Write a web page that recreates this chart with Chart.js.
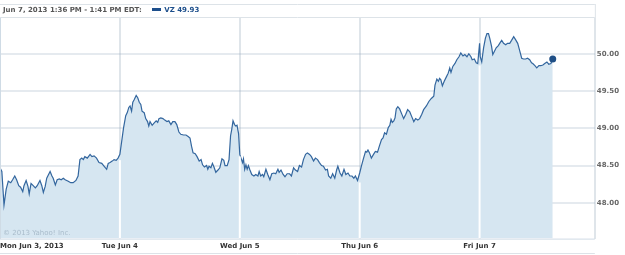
<!DOCTYPE html>
<html lang="en">
<head>
<meta charset="UTF-8">
<title>VZ 5 Day</title>
<script src="https://cdn.jsdelivr.net/npm/chart.js"></script>
<style>
    body { margin: 0; background: #fff; font-family: "DejaVu Sans", sans-serif; }
    #wrap { position: relative; width: 625px; height: 255px; }
    #header { position: absolute; left: 3px; top: 6px; font-size: 7px; line-height: 9px; font-weight: bold; color: #555; white-space: nowrap; }
    #header .mark { display: inline-block; width: 9px; height: 3px; background: #1d4f8c; vertical-align: middle; margin: 0 3px 1px 8px; }
    #header .vz { color: #1d4f8c; }
    #copy { position: absolute; left: 3px; top: 229px; font-size: 7px; line-height: 9px; color: #a9bccb; white-space: nowrap; }
</style>
</head>
<body>
<div id="wrap">
    <canvas id="vzChart"></canvas>
    <div id="header">Jun 7, 2013 1:36 PM - 1:41 PM EDT: <span class="mark"></span><span class="vz">VZ 49.93</span></div>
    <div id="copy">© 2013 Yahoo! Inc.</div>
</div>
<script>
// trading minutes since Mon Jun 3 09:30 (390 minutes per session)
const minutes = [
    0, 6, 13, 20, 27, 35, 41, 48, 54, 61, 67, 74, 78, 85, 91, 95, 101, 108, 115, 121,
    130, 136, 141, 147, 152, 158, 163, 169, 173, 180, 186, 193, 199, 206, 212, 222, 230, 238, 247, 254,
    260, 266, 271, 276, 284, 293, 299, 306, 314, 322, 331, 339, 347, 352, 358, 365, 371, 378, 384,
    // Tue
    390, 396, 402, 409, 414, 419, 423, 428, 432, 436, 443, 448, 453, 458, 462, 469, 474, 480, 484, 488,
    495, 501, 508, 513, 517, 523, 530, 536, 543, 549, 556, 562, 569, 575, 582, 588, 597, 605, 612, 618,
    623, 628, 635, 641, 648, 654, 659, 665, 672, 676, 680, 686, 691, 696, 702, 709, 715, 722, 728, 732,
    739, 745, 750, 754, 758, 763, 767, 771, 776,
    // Wed
    780, 784, 789, 792, 796, 800, 804, 808, 813, 819, 826, 832, 839, 843, 848, 854, 858, 865, 871, 878,
    884, 891, 897, 904, 908, 914, 921, 927, 934, 942, 948, 955, 961, 968, 974, 981, 987, 994, 1000, 1007,
    1013, 1020, 1026, 1033, 1039, 1046, 1052, 1059, 1065, 1069, 1076, 1082, 1089, 1095, 1099, 1106, 1112, 1119, 1125, 1132,
    1138, 1145, 1151, 1156, 1163,
    // Thu
    1170, 1176, 1182, 1189, 1193, 1197, 1202, 1208, 1215, 1221, 1228, 1234, 1241, 1246, 1251, 1257, 1263, 1268, 1272, 1276,
    1281, 1285, 1289, 1294, 1300, 1307, 1313, 1320, 1326, 1333, 1339, 1346, 1352, 1359, 1365, 1372, 1378, 1387, 1395, 1403,
    1411, 1415, 1421, 1426, 1430, 1434, 1439, 1445, 1452, 1458, 1463, 1467, 1473, 1480, 1486, 1493, 1499, 1506, 1512, 1519,
    1525, 1532, 1536, 1543, 1549, 1554,
    // Fri
    1560, 1562, 1567, 1573, 1579, 1584, 1589, 1593, 1599, 1603, 1608, 1614, 1621, 1627, 1632, 1638, 1645, 1651, 1658, 1664,
    1671, 1677, 1684, 1690, 1697, 1703, 1710, 1716, 1723, 1729, 1733, 1740, 1746, 1753, 1759, 1766, 1772, 1779, 1785, 1792,
    1798
];

const prices = [
    48.47, 48.42, 47.97, 48.18, 48.29, 48.27, 48.31, 48.36, 48.31, 48.23, 48.21, 48.15, 48.23, 48.30, 48.22, 48.12, 48.26, 48.23, 48.20, 48.23,
    48.30, 48.23, 48.14, 48.22, 48.33, 48.38, 48.42, 48.36, 48.33, 48.24, 48.31, 48.32, 48.31, 48.33, 48.31, 48.29, 48.27, 48.27, 48.30, 48.36,
    48.58, 48.60, 48.58, 48.62, 48.60, 48.65, 48.62, 48.63, 48.60, 48.54, 48.53, 48.49, 48.45, 48.53, 48.54, 48.56, 48.58, 48.57, 48.60,
    // Tue
    48.65, 48.83, 49.01, 49.17, 49.21, 49.28, 49.30, 49.23, 49.35, 49.38, 49.44, 49.41, 49.35, 49.32, 49.23, 49.21, 49.13, 49.09, 49.03, 49.09,
    49.04, 49.07, 49.10, 49.08, 49.13, 49.14, 49.13, 49.11, 49.09, 49.10, 49.05, 49.09, 49.09, 49.05, 48.95, 48.92, 48.91, 48.91, 48.89, 48.87,
    48.76, 48.67, 48.66, 48.62, 48.56, 48.58, 48.51, 48.48, 48.50, 48.45, 48.49, 48.47, 48.53, 48.48, 48.41, 48.44, 48.47, 48.59, 48.57, 48.50,
    48.50, 48.58, 48.90, 48.99, 49.10, 49.05, 49.03, 49.04, 48.93,
    // Wed
    48.65, 48.60, 48.54, 48.59, 48.45, 48.51, 48.45, 48.50, 48.44, 48.38, 48.36, 48.38, 48.36, 48.42, 48.36, 48.38, 48.35, 48.45, 48.38, 48.31,
    48.39, 48.40, 48.39, 48.45, 48.41, 48.44, 48.38, 48.35, 48.39, 48.39, 48.36, 48.47, 48.44, 48.42, 48.50, 48.48, 48.58, 48.65, 48.67, 48.65,
    48.62, 48.56, 48.60, 48.58, 48.54, 48.50, 48.49, 48.44, 48.45, 48.36, 48.33, 48.39, 48.33, 48.44, 48.49, 48.40, 48.36, 48.45, 48.38, 48.40,
    48.36, 48.36, 48.33, 48.36, 48.30,
    // Thu
    48.40, 48.50, 48.59, 48.69, 48.68, 48.71, 48.67, 48.60, 48.65, 48.69, 48.68, 48.76, 48.85, 48.87, 48.94, 48.92, 49.01, 49.04, 49.12, 49.08,
    49.10, 49.14, 49.26, 49.29, 49.26, 49.19, 49.13, 49.19, 49.25, 49.22, 49.16, 49.09, 49.13, 49.11, 49.13, 49.19, 49.25, 49.30, 49.36, 49.40,
    49.43, 49.58, 49.66, 49.63, 49.67, 49.65, 49.57, 49.63, 49.69, 49.74, 49.81, 49.75, 49.83, 49.87, 49.92, 49.96, 50.01, 49.97, 49.99, 49.96,
    50.00, 49.96, 49.92, 49.93, 49.88, 49.87,
    // Fri
    50.14, 49.96, 49.89, 50.08, 50.21, 50.27, 50.27, 50.21, 50.10, 49.99, 50.03, 50.08, 50.11, 50.15, 50.18, 50.14, 50.12, 50.14, 50.14, 50.18,
    50.23, 50.19, 50.14, 50.05, 49.94, 49.93, 49.93, 49.94, 49.92, 49.88, 49.87, 49.84, 49.81, 49.84, 49.84, 49.85, 49.87, 49.89, 49.86, 49.87,
    49.93
];

const dayStarts = [0, 390, 780, 1170, 1560];
const dayLabels = ['Mon Jun 3, 2013', 'Tue Jun 4', 'Wed Jun 5', 'Thu Jun 6', 'Fri Jun 7'];
const yTicks = [48.00, 48.50, 49.00, 49.50, 50.00];
const xEnd = 1935;

const points = minutes.map((m, i) => ({ x: m, y: prices[i] }));

// outer frame lines of the yahoo widget
const framePlugin = {
    id: 'frame',
    beforeDraw(chart) {
        const { ctx, chartArea: a, height } = chart;
        ctx.save();
        ctx.strokeStyle = '#dde3e8';
        ctx.lineWidth = 1;
        ctx.beginPath();
        ctx.moveTo(0, 4.5); ctx.lineTo(a.right, 4.5);
        ctx.moveTo(0, a.top - 0.5); ctx.lineTo(a.right, a.top - 0.5);
        ctx.moveTo(a.right + 0.5, 4); ctx.lineTo(a.right + 0.5, a.bottom);
        ctx.moveTo(0, height - 1.5); ctx.lineTo(a.right, height - 1.5);
        ctx.stroke();
        ctx.restore();
    },
    afterDraw(chart) {
        const { ctx, chartArea: a } = chart;
        ctx.save();
        ctx.strokeStyle = '#cfdbe5';
        ctx.lineWidth = 1;
        ctx.beginPath();
        ctx.moveTo(0.5, a.top); ctx.lineTo(0.5, a.bottom);
        ctx.moveTo(0, a.bottom + 0.5); ctx.lineTo(a.right, a.bottom + 0.5);
        ctx.stroke();
        ctx.restore();
    }
};

// white day separators cut through the filled area
const separatorPlugin = {
    id: 'separators',
    afterDatasetsDraw(chart) {
        const { ctx, chartArea: a, scales } = chart;
        ctx.save();
        ctx.strokeStyle = '#ffffff';
        ctx.lineWidth = 2;
        dayStarts.slice(1).forEach(d => {
            const i = minutes.indexOf(d);
            if (i < 1) return;
            const low = Math.min(prices[i - 1], prices[i]);
            const x = scales.x.getPixelForValue(d);
            const y = scales.y.getPixelForValue(low) + 2;
            ctx.beginPath();
            ctx.moveTo(x, a.bottom);
            ctx.lineTo(x, y);
            ctx.stroke();
        });
        ctx.restore();
    }
};

Chart.defaults.font.family = '"DejaVu Sans", sans-serif';
Chart.defaults.font.size = 7;
Chart.defaults.font.weight = 'bold';

const ctx = document.getElementById('vzChart').getContext('2d');
new Chart(ctx, {
    type: 'line',
    data: {
        datasets: [{
            label: 'VZ',
            data: points,
            borderColor: '#33669e',
            borderWidth: 1.2,
            backgroundColor: '#d6e6f1',
            fill: 'start',
            tension: 0,
            pointRadius: c => c.dataIndex === points.length - 1 ? 3.5 : 0,
            pointBackgroundColor: '#1f4f86',
            pointBorderWidth: 0
        }]
    },
    options: {
        responsive: true,
        maintainAspectRatio: false,
        animation: false,
        layout: { autoPadding: false, padding: { top: 18, right: 4, bottom: 5, left: 0 } },
        plugins: { legend: { display: false }, tooltip: { enabled: false } },
        scales: {
            x: {
                type: 'linear',
                min: 0,
                max: xEnd,
                afterBuildTicks: axis => {
                    axis.ticks = dayStarts.concat([xEnd]).map(v => ({ value: v }));
                },
                ticks: {
                    autoSkip: false,
                    maxRotation: 0,
                    align: 'inner',
                    padding: 0,
                    color: '#333',
                    callback: (v, i) => dayLabels[i] || ''
                },
                grid: { color: '#dfe5ea', lineWidth: 2, drawTicks: true, tickLength: 3, tickColor: 'rgba(0,0,0,0)' },
                border: { display: false }
            },
            y: {
                position: 'right',
                min: 47.52,
                max: 50.48,
                z: 1,
                afterBuildTicks: axis => {
                    axis.ticks = yTicks.map(v => ({ value: v }));
                },
                ticks: {
                    padding: 2,
                    color: '#666',
                    callback: v => v.toFixed(2)
                },
                grid: { color: 'rgba(150,170,190,0.25)', lineWidth: 2, drawTicks: false },
                border: { display: false }
            }
        }
    },
    plugins: [framePlugin, separatorPlugin]
});
</script>
</body>
</html>
